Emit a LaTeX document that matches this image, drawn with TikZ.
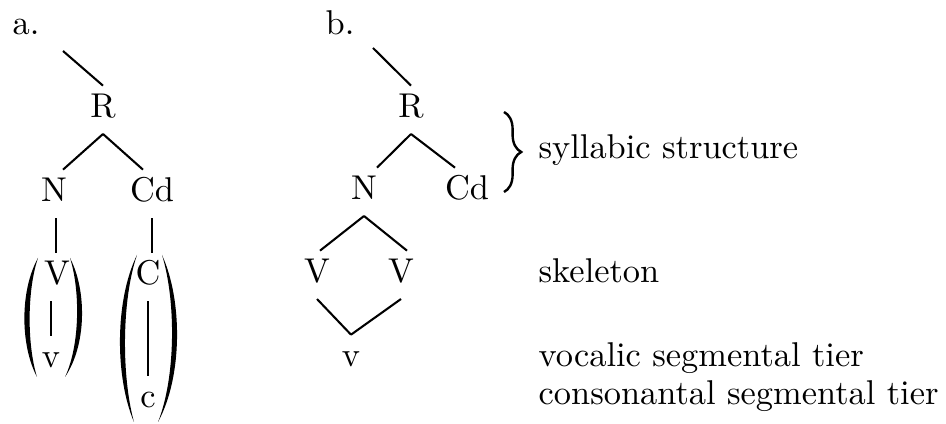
\documentclass[tikz,border=0pt]{standalone}
\usetikzlibrary{calc,decorations.pathreplacing}
\begin{document}
\begin{tikzpicture}[x=0.2907pt,y=-0.2907pt,
      every node/.style={font=\normalsize},
      seg/.style={inner sep=2.3pt,text height=1.6ex,text depth=0.5ex,anchor=base},
      lbl/.style={inner sep=0pt,anchor=base west},
      tie/.style={line width=0.6pt}
    ]
      \useasboundingbox (0,0) rectangle (946,424);

      % a.
      \node[lbl] (la) at (12,35) {a.};
      \coordinate (ta) at (63,51);
      \node[seg] (Ra)  at (103,118) {R};
      \node[seg] (Na)  at (54,202)  {N};
      \node[seg] (Cda) at (152,202) {Cd};
      \node[seg] (Va)  at (57,285)  {V};
      \node[seg] (va)  at (51,368)  {v};
      \node[seg] (Ca)  at (148,285) {C};
      \node[seg] (ca)  at (148,408) {c};

      \draw[tie] (ta) -- (Ra.north);
      \draw[tie] (Ra.south) -- ($(Na.north)+(9,0)$);
      \draw[tie] (Ra.south) -- ($(Cda.north)+(-9,0)$);
      \draw[tie] ($(Va.north |- Na.south)+(-1,0)$) -- ($(Va.north)+(-1,0)$);
      \draw[tie] (va.north |- Va.south) -- (va.north);
      \draw[tie] (Cda.south) -- (Cda.south |- Ca.north);
      \draw[tie] (Ca.south) -- (ca.north);

      % big parentheses round V/v and C/c
      \foreach \xt/\yt/\xb/\yb/\co/\ci in {38/258/37/377/20/27,
          70/258/65/377/86.8/80.2, 137/255/134/422/114.8/121.5,
          162/255/158/422/182.7/176}{
        \pgfmathsetmacro\ya{\yt+0.27*(\yb-\yt)}
        \pgfmathsetmacro\yc{\yt+0.73*(\yb-\yt)}
        \fill (\xt,\yt) .. controls (\co,\ya) and (\co,\yc) .. (\xb,\yb)
          .. controls (\ci,\yc) and (\ci,\ya) .. cycle;
      }

      % b.
      \node[lbl] (lb) at (325,35) {b.};
      \coordinate (tb) at (373,48);
      \node[seg] (Rb)  at (411,118) {R};
      \node[seg] (Nb)  at (364,200) {N};
      \node[seg] (Cdb) at (467,200) {Cd};
      \node[seg] (Vl)  at (317,283) {V};
      \node[seg] (Vr)  at (401,283) {V};
      \node[seg] (vb)  at (351,367) {v};

      \draw[tie] (tb) -- (Rb.north);
      \draw[tie] (Rb.south) -- ($(Nb.north)+(13,0)$);
      \draw[tie] (Rb.south) -- ($(Cdb.north)+(-12,0)$);
      \draw[tie] (Nb.south) -- ($(Vl.north)+(3,0)$);
      \draw[tie] (Nb.south) -- ($(Vr.north)+(6,0)$);
      \draw[tie] (Vl.south) -- (vb.north);
      \draw[tie] (Vr.south) -- (vb.north);

      \draw[line width=0.7pt,decorate,decoration={brace,amplitude=5pt}]
        (504,112) -- (504,192);

      % tier labels
      \node[lbl] (syl)  at (538,159) {syllabic structure};
      \node[lbl] (skel) at (538,283) {skeleton};
      \node[lbl] (voc)  at (538,367) {vocalic segmental tier};
      \node[lbl] (cons) at (538,405) {consonantal segmental tier};
    \end{tikzpicture}
\end{document}
